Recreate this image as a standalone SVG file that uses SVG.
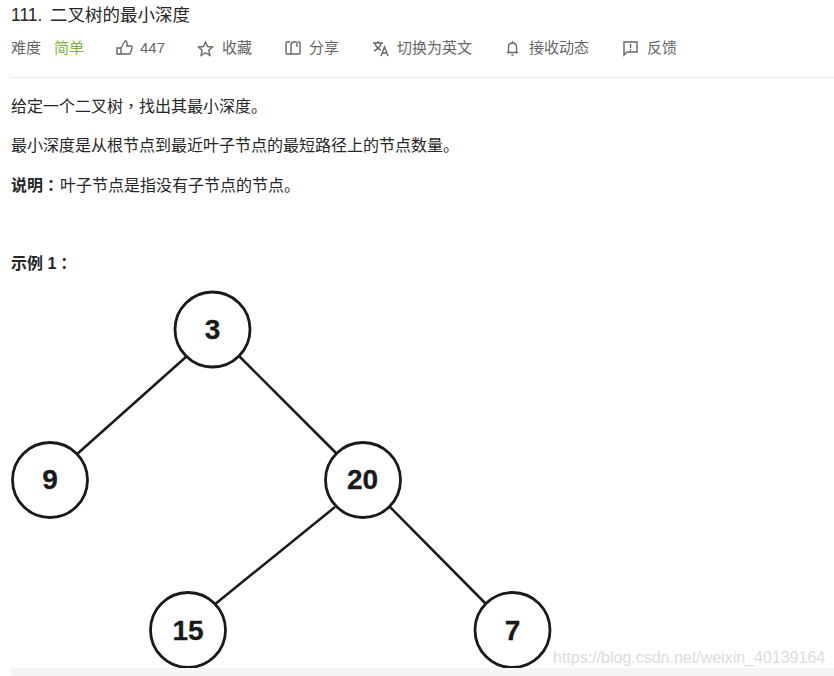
<svg xmlns="http://www.w3.org/2000/svg" width="834" height="676" viewBox="0 0 834 676">
<style>
text{font-family:"Liberation Sans","Noto Sans CJK SC",sans-serif}
.t{font-size:16px;fill:#262626}
.b{font-size:16px;font-weight:700;fill:#262626}
.m{font-size:15px;fill:#666}
.p{font-family:"Noto Sans CJK TC",sans-serif}
.i{fill:none;stroke:#666;stroke-width:1.4}
.n circle{fill:#fff;stroke:#1a1a1a;stroke-width:2.800}
.n text{font-size:28px;font-weight:700;fill:#1a1a1a;text-anchor:middle;stroke:#1a1a1a;stroke-width:.3}
#connectors line{stroke:#1a1a1a;stroke-width:2.500}
</style>
<rect width="834" height="676" fill="#fff"/>
<text x="11" y="21" font-size="17.500" fill="#262626">111.<tspan x="49.500"> </tspan><tspan x="50">二叉树的最小深度</tspan></text>
<g id="toolbar">
<text x="11" y="53" class="m">难度</text>
<text x="54" y="53" font-size="15" fill="#7cb342">简单</text>
<path class="i" d="M117 48h4v6h-4zM121 48l4-7q2-.5 2 2v3h4q1.500 0 1 2l-1.500 5q-.3 1-1.500 1h-8"/>
<text x="140" y="53" class="m">447</text>
<path class="i" d="M205.500 42l2 4.500 5 .5-3.700 3.300 1.100 5-4.400-2.600-4.400 2.600 1.100-5-3.700-3.300 5-.5z"/>
<text x="222" y="53" class="m">收藏</text>
<path class="i" d="M290 42h-3q-1 0-1 1v10q0 1 1 1h12q1 0 1-1v-10q0-1-1-1h-1M291 54v-9q0-3 3-3h2q1 0 1 2v3"/>
<text x="309" y="53" class="m">分享</text>
<path class="i" d="M373 43h10M378 41v2M375 43q1 5 6 7M381 43q-1 5-7 8M381 56l3.500-9 3.500 9M382.500 53h4"/>
<text x="397" y="53" class="m">切换为英文</text>
<path class="i" d="M507 52.500h11M508.500 52v-5q0-4 4-4t4 4v5M511.500 55h2M512.500 43v-2"/>
<text x="529" y="53" class="m">接收动态</text>
<path class="i" d="M624 42h13v10h-10l-3 3zM630.500 44v4M630.500 49v1.500"/>
<text x="647" y="53" class="m">反馈</text>
</g>
<rect x="11" y="77" width="823" height="1" fill="#e8e8e8"/>
<text x="11" y="112" class="t">给定一个二叉树<tspan class="p">，</tspan>找出其最小深度。</text>
<text x="11" y="151" class="t">最小深度是从根节点到最近叶子节点的最短路径上的节点数量。</text>
<text x="11" y="191" class="b">说明<tspan class="p">：</tspan></text>
<text x="60" y="191" class="t">叶子节点是指没有子节点的节点。</text>
<text x="11" y="269" class="b">示例 1<tspan class="p">：</tspan></text>
<g id="connectors">
<line x1="187" y1="356" x2="76" y2="455"/>
<line x1="239" y1="356" x2="337" y2="454"/>
<line x1="335" y1="507" x2="214" y2="605"/>
<line x1="389" y1="506" x2="486" y2="604"/>
</g>
<g id="node-3" class="n"><circle cx="212.500" cy="329.500" r="37.500"/><text x="212.500" y="339">3</text></g>
<g id="node-9" class="n"><circle cx="50" cy="480" r="37.500"/><text x="50" y="489">9</text></g>
<g id="node-20" class="n"><circle cx="363" cy="480" r="37.500"/><text x="362.500" y="489">20</text></g>
<g id="node-15" class="n"><circle cx="188" cy="630" r="37.500"/><text x="188" y="639.500">15</text></g>
<g id="node-7" class="n"><circle cx="512.500" cy="630" r="37.500"/><text x="512.500" y="639.500">7</text></g>
<rect x="11" y="668" width="823" height="8" fill="#f5f5f5"/>
<text x="553" y="663" font-size="16" fill="#dcdcdc">https://blog.csdn.net/weixin_40139164</text>
</svg>
